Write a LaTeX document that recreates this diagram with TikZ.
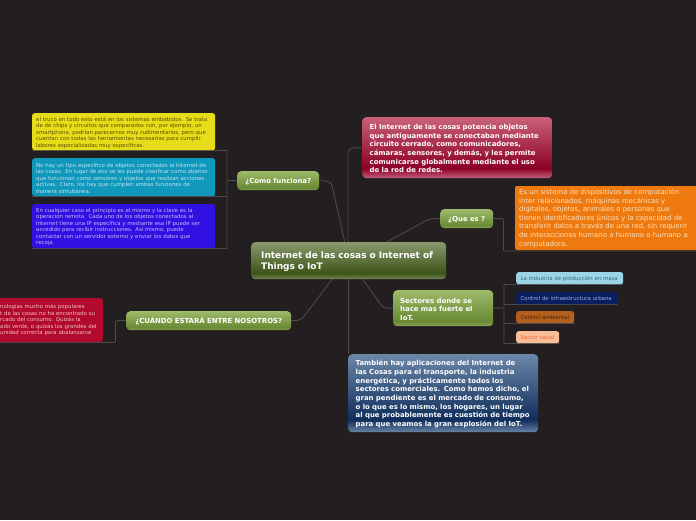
\documentclass[tikz,border=0pt]{standalone}
\usepackage{fontspec}
\setmainfont{DejaVu Sans}
\usetikzlibrary{backgrounds}
\definecolor{bgc}{HTML}{231F20}
\definecolor{linkc}{HTML}{4A4A4A}
\pgfdeclareverticalshading{olivegloss}{100bp}{rgb(0bp)=(0.54,0.64,0.35);rgb(25bp)=(0.54,0.64,0.35);rgb(32bp)=(0.41,0.54,0.20);rgb(75bp)=(0.62,0.73,0.42);rgb(100bp)=(0.62,0.73,0.42)}
\pgfdeclareverticalshading{rootgloss}{100bp}{rgb(0bp)=(0.45,0.52,0.35);rgb(25bp)=(0.45,0.52,0.35);rgb(33bp)=(0.24,0.33,0.09);rgb(75bp)=(0.54,0.60,0.43);rgb(100bp)=(0.54,0.60,0.43)}
\pgfdeclareverticalshading{rosegloss}{100bp}{rgb(0bp)=(0.77,0.38,0.49);rgb(25bp)=(0.77,0.38,0.49);rgb(33bp)=(0.55,0.0,0.15);rgb(75bp)=(0.79,0.38,0.48);rgb(100bp)=(0.79,0.38,0.48)}
\pgfdeclareverticalshading{steelgloss}{100bp}{rgb(0bp)=(0.42,0.52,0.65);rgb(25bp)=(0.42,0.52,0.65);rgb(33bp)=(0.06,0.18,0.36);rgb(75bp)=(0.42,0.53,0.66);rgb(100bp)=(0.42,0.53,0.66)}
\tikzset{
  x=1pt,y=-1pt,
  box/.style n args={3}{rectangle,rounded corners=2.5pt,anchor=north west,align=left,
    text width={#1pt-2*#3pt},inner xsep=#3pt,inner ysep=0pt,minimum height=#2pt,
    execute at end node={\par\vspace*{-2pt}}},
  small/.style={font=\fontsize{5.4}{6.5}\selectfont},
  bold/.style={font=\fontsize{6.92}{8.65}\selectfont\bfseries,text=white,rounded corners=4pt},
  olive/.style={shading=olivegloss,bold,text=white},
  link/.style={draw=linkc,line width=0.9pt},
}
\begin{document}
\begin{tikzpicture}
\useasboundingbox (0,0) rectangle (696,520);
\begin{scope}[on background layer]
\fill[bgc] (0,0) rectangle (696,520);
\end{scope}
% root
\node[box={195}{37}{10},shading=rootgloss,rounded corners=4pt,font=\fontsize{8.97}{11.2}\selectfont\bfseries,text=white] (root) at (251,242)
 {Internet de las cosas o Internet of\\Things o IoT};
\coordinate (rA) at (345,243);
\coordinate (rB) at (385,243);
\coordinate (rC) at (333,278);
\coordinate (rD) at (362,278);
\coordinate (rE) at (348,260);
% branches
\node[box={82}{19}{4},olive,align=center] (como) at (237,171) {¿Como funciona?};
\node[box={165}{19}{3},olive,align=center] (cuando) at (126,311) {¿CUÁNDO ESTARÁ ENTRE NOSOTROS?};
\node[box={53}{19}{4},olive,align=center] (quees) at (440,209) {¿Que es ?};
\node[box={100}{36}{7},olive] (sect) at (393,290) {Sectores donde se\\hace mas fuerte el\\IoT.};
\node[box={190}{61}{7.5},shading=rosegloss,bold] (rose) at (362,117)
 {El Internet de las cosas potencia objetos\\que antiguamente se conectaban mediante\\circuito cerrado, como comunicadores,\\cámaras, sensores, y demás, y les permite\\comunicarse globalmente mediante el uso\\de la red de redes.};
\node[box={190}{78}{7.5},shading=steelgloss,bold] (steel) at (348,354)
 {También hay aplicaciones del Internet de\\las Cosas para el transporte, la industria\\energética, y prácticamente todos los\\sectores comerciales. Como hemos dicho, el\\gran pendiente es el mercado de consumo,\\o lo que es lo mismo, los hogares, un lugar\\al que probablemente es cuestión de tiempo\\para que veamos la gran explosión del IoT.};
% left leaves
\node[box={183}{37}{4},fill={rgb,255:red,232;green,220;blue,26},small,text={rgb,255:red,90;green,82;blue,0}] (yel) at (32,113)
 {el truco en todo esto está en los sistemas embebidos. Se trata\\de de chips y circuitos que comparados con, por ejemplo, un\\smartphone, podrían parecernos muy rudimentarios, pero que\\cuentan con todas las herramientas necesarias para cumplir\\labores especializadas muy específicas.};
\node[box={183}{38}{4},fill={rgb,255:red,15;green,151;blue,188},small,text={rgb,255:red,195;green,228;blue,238}] (cya) at (32,158)
 {No hay un tipo específico de objetos conectados al Internet de\\las cosas. En lugar de eso se les puede clasificar como objetos\\que funcionan como sensores y objetos que realizan acciones\\activas. Claro, los hay que cumplen ambas funciones de\\manera simultánea.};
\node[box={183}{44}{4},fill={rgb,255:red,49;green,16;blue,226},small,text={rgb,255:red,196;green,186;blue,247}] (blu) at (32,204)
 {En cualquier caso el principio es el mismo y la clave es la\\operación remota. Cada uno de los objetos conectados al\\Internet tiene una IP específica y mediante esa IP puede ser\\accedido para recibir instrucciones. Así mismo, puede\\contactar con un servidor externo y enviar los datos que\\recoja.};
% red leaf, cut by the left edge
\fill[fill={rgb,255:red,178;green,10;blue,44}] (0,298) [rounded corners=2.5pt] -- (103,298) -- (103,342) [sharp corners] -- (0,342) -- cycle;
\node[anchor=north west,align=left,inner sep=0pt,small,text={rgb,255:red,240;green,190;blue,200},text width=100pt,minimum height=44pt] (red) at (0,298)
 {nologías mucho más populares\\t de las cosas no ha encontrado su\\rcado del consumo. Quizás la\\ado verde, o quizás los grandes del\\unidad correcta para abalanzarse\\[5pt]};
% right leaves
\fill[fill={rgb,255:red,238;green,122;blue,15}] (696,186) [rounded corners=2pt] -- (515,186) -- (515,250) [sharp corners] -- (696,250) -- cycle;
\node[anchor=north west,align=left,inner sep=0pt,font=\fontsize{6.9}{8.6}\selectfont,text={rgb,255:red,253;green,224;blue,190},text width=175pt,minimum height=64pt] (ora) at (519,186)
 {Es un sistema de dispositivos de computación\\inter relacionados, máquinas mecánicas y\\digitales, objetos, animales o personas que\\tienen identificadores únicos y la capacidad de\\transferir datos a través de una red, sin requerir\\de interacciones humano a humano o humano a\\computadora.};
\node[box={107}{12}{4.5},fill={rgb,255:red,155;green,212;blue,230},small,text={rgb,255:red,60;green,105;blue,125}] (s1) at (516,272) {La industria de producción en masa};
\node[box={101}{12}{4.5},fill={rgb,255:red,10;green,31;blue,96},small,text={rgb,255:red,160;green,176;blue,216}] (s2) at (516,292) {Control de infraestructura urbana};
\node[box={58}{12}{4.5},fill={rgb,255:red,179;green,96;blue,30},small,text={rgb,255:red,70;green,36;blue,8}] (s3) at (516,311) {Control ambiental};
\node[box={43}{12}{4.5},fill={rgb,255:red,249;green,189;blue,152},small,text={rgb,255:red,240;green,102;blue,58}] (s4) at (516,331) {Sector salud};
% connectors
\begin{scope}[on background layer]
\draw[link,rounded corners=5pt] (rose.west) -- (348,148) -- (rE);
\draw[link] (rE) -- (steel.north west);
\draw[link,rounded corners=5pt] (como.east) -- (331,181) -- (rA);
\draw[link,rounded corners=4pt] (quees.west) -- (430,218.5) -- (rB);
\draw[link,rounded corners=4pt] (sect.west) -- (383,308) -- (rD);
\draw[link,rounded corners=5pt] (cuando.east) -- (301,320.5) -- (rC);
\draw[link] (como.west) -- (227,180.5);
\draw[link] (yel.south west) -- (227,150.5) -- (227,248.5) -- (blu.south west);
\draw[link] (cya.south west) -- (227,196.5);
\draw[link,rounded corners=2pt] (cuando.west) -- (115.5,320.5) -- (115.5,342.5) -- (0,342.5);
\draw[link,rounded corners=1pt] (quees.east) -- (503.5,218.5) -- (503.5,251) -- (696,251);
\draw[link] (sect.east) -- (504,308);
\draw[link] (s1.south east) -- (504,284.5) -- (504,343.5) -- (s4.south east);
\draw[link] (s2.south east) -- (504,304.5);
\draw[link] (s3.south east) -- (504,323.5);
\end{scope}
\end{tikzpicture}
\end{document}
